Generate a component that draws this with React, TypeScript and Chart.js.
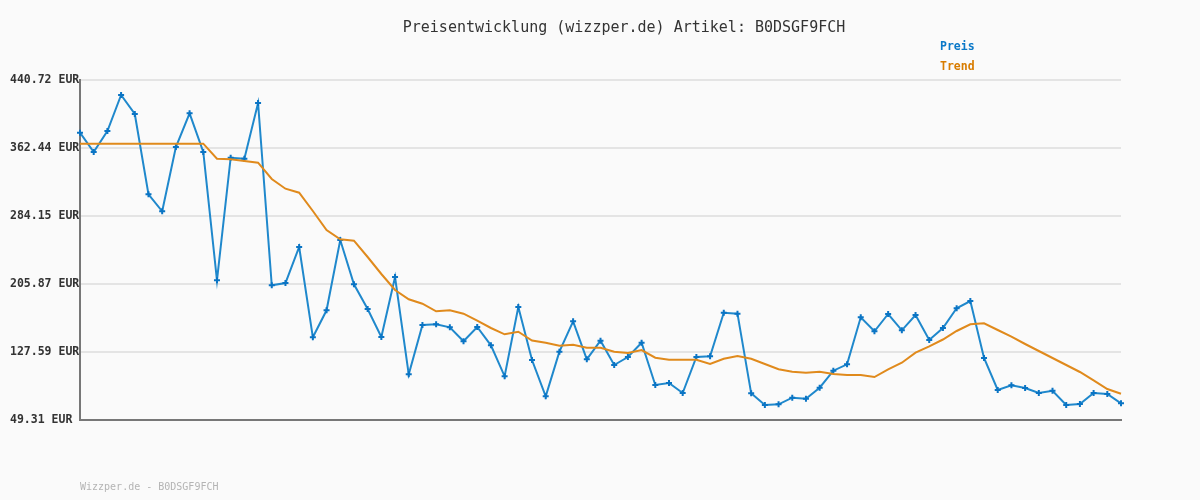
import React, { useEffect, useRef } from "react";
import { Chart, registerables } from "chart.js";

Chart.register(...registerables);

const TITLE = "Preisentwicklung (wizzper.de) Artikel: B0DSGF9FCH";
const FOOTER = "Wizzper.de - B0DSGF9FCH";
const LEGEND_LABELS = ["Preis", "Trend"];

const tickValues = [49.31, 127.59, 205.87, 284.15, 362.44, 440.72];
const tickLabels = ["49.31 EUR", "127.59 EUR", "205.87 EUR", "284.15 EUR", "362.44 EUR", "440.72 EUR"];

const preis = [
  380.05, 357.83, 382.01, 423.45, 401.58, 309.14, 289.57, 363.59, 402.38, 357.83,
  210.13, 351.27, 350.12, 414.24, 204.38, 207.02, 248.47, 144.51, 175.6, 256.53,
  205.53, 177.09, 144.86, 213.93, 101.92, 158.67, 159.48, 156.03, 139.91, 156.37,
  135.3, 99.62, 179.4, 118.38, 76.59, 127.94, 162.93, 119.19, 140.6, 112.63,
  121.83, 138.3, 89.6, 91.9, 80.39, 121.83, 122.64, 172.83, 171.68, 80.05,
  66.58, 67.38, 74.98, 73.83, 86.49, 106.06, 113.43, 167.54, 151.42, 171.34,
  152.57, 170.19, 141.41, 155.22, 177.9, 186.3, 120.68, 83.84, 89.26, 86.15,
  80.39, 83.04, 66.58, 67.73, 80.39, 79.24, 68.53,
];

const trend = [
  367.39, 367.39, 367.39, 367.39, 367.39, 367.39, 367.39, 367.39, 367.39, 367.39,
  350.12, 349.43, 347.47, 345.51, 326.75, 315.58, 310.98, 289.91, 268.04, 257.33,
  255.72, 236.96, 217.39, 198.97, 188.26, 183.19, 174.44, 175.6, 171.68, 163.62,
  155.22, 147.97, 150.96, 140.83, 138.18, 134.84, 135.99, 132.54, 132.54, 127.94,
  126.44, 129.89, 121.03, 118.73, 118.73, 118.73, 113.78, 119.88, 122.99, 119.88,
  113.78, 107.67, 104.91, 103.76, 104.91, 102.26, 101.11, 101.11, 98.81, 107.67,
  115.27, 126.78, 134.15, 141.98, 151.77, 159.48, 160.63, 152.92, 145.2, 136.8,
  128.74, 120.68, 112.63, 104.57, 95.01, 85.0, 79.59,
];

const categories = preis.map((_, i) => String(i + 1));

const BG = "#fafafa";
const BLUE_LINE = "#1f88cc";
const BLUE_POINT = "#0a74c4";
const ORANGE = "#e08a1c";
const LEGEND_COLORS = ["#0a78c8", "#d87c00"];

export default function App() {
  const ref = useRef<HTMLCanvasElement | null>(null);

  useEffect(() => {
    if (!ref.current) return;
    const textPlugin = {
      id: "texts",
      beforeDraw(chart: any) {
        const ctx = chart.ctx;
        ctx.save();
        ctx.fillStyle = BG;
        ctx.fillRect(0, 0, chart.width, chart.height);
        ctx.restore();
      },
      afterDraw(chart: any) {
        const ctx = chart.ctx;
        ctx.save();
        ctx.textBaseline = "middle";
        ctx.textAlign = "center";
        ctx.fillStyle = "#333333";
        ctx.font = "15px 'DejaVu Sans Mono'";
        ctx.fillText(TITLE, 624, 28);
        ctx.textAlign = "left";
        ctx.font = "bold 11.5px 'DejaVu Sans Mono'";
        ctx.fillStyle = LEGEND_COLORS[0];
        ctx.fillText(LEGEND_LABELS[0], 940, 47);
        ctx.fillStyle = LEGEND_COLORS[1];
        ctx.fillText(LEGEND_LABELS[1], 940, 67);
        ctx.font = "10px 'DejaVu Sans Mono'";
        ctx.fillStyle = "#b4b4b4";
        ctx.fillText(FOOTER, 80, 487);
        ctx.restore();
      },
    };

    const chart = new Chart(ref.current, {
      type: "line",
      data: {
        labels: categories,
        datasets: [
          {
            label: "Trend",
            data: trend,
            borderColor: ORANGE,
            borderWidth: 2,
            pointRadius: 0,
            tension: 0,
            fill: false,
          },
          {
            label: "Preis",
            data: preis,
            borderColor: BLUE_LINE,
            borderWidth: 2,
            pointStyle: "cross",
            pointRadius: 3,
            pointBorderWidth: 2,
            pointBorderColor: BLUE_POINT,
            pointBackgroundColor: BLUE_POINT,
            tension: 0,
            fill: false,
          },
        ],
      },
      options: {
        animation: false,
        responsive: false,
        maintainAspectRatio: false,
        layout: { padding: { left: 10, top: 80, right: 79, bottom: 80 } },
        plugins: {
          legend: { display: false },
          title: { display: false },
          tooltip: { enabled: false },
        },
        scales: {
          x: {
            type: "category",
            offset: false,
            grid: { display: false },
            border: { display: true, color: "#777777", width: 2 },
            ticks: { display: false },
            afterFit(scale: any) {
              scale.height = 0;
            },
          },
          y: {
            min: 49.31,
            max: 440.72,
            afterBuildTicks(scale: any) {
              scale.ticks = tickValues.map((v) => ({ value: v }));
            },
            afterFit(scale: any) {
              scale.width = 70;
            },
            grid: { color: "#e4e4e4", lineWidth: 2, drawTicks: false },
            border: { display: true, color: "#777777", width: 2 },
            ticks: {
              crossAlign: "far",
              padding: 0,
              color: "#333333",
              font: { family: "'DejaVu Sans Mono'", size: 11.5, weight: "bold" },
              callback: (_v: any, i: number) => tickLabels[i],
            },
          },
        },
      },
      plugins: [textPlugin],
    });
    return () => chart.destroy();
  }, []);

  return (
    <div style={{ position: "fixed", left: 0, top: 0, width: 1200, height: 500, background: BG }}>
      <canvas ref={ref} width={1200} height={500} style={{ width: 1200, height: 500, display: "block" }} />
    </div>
  );
}
